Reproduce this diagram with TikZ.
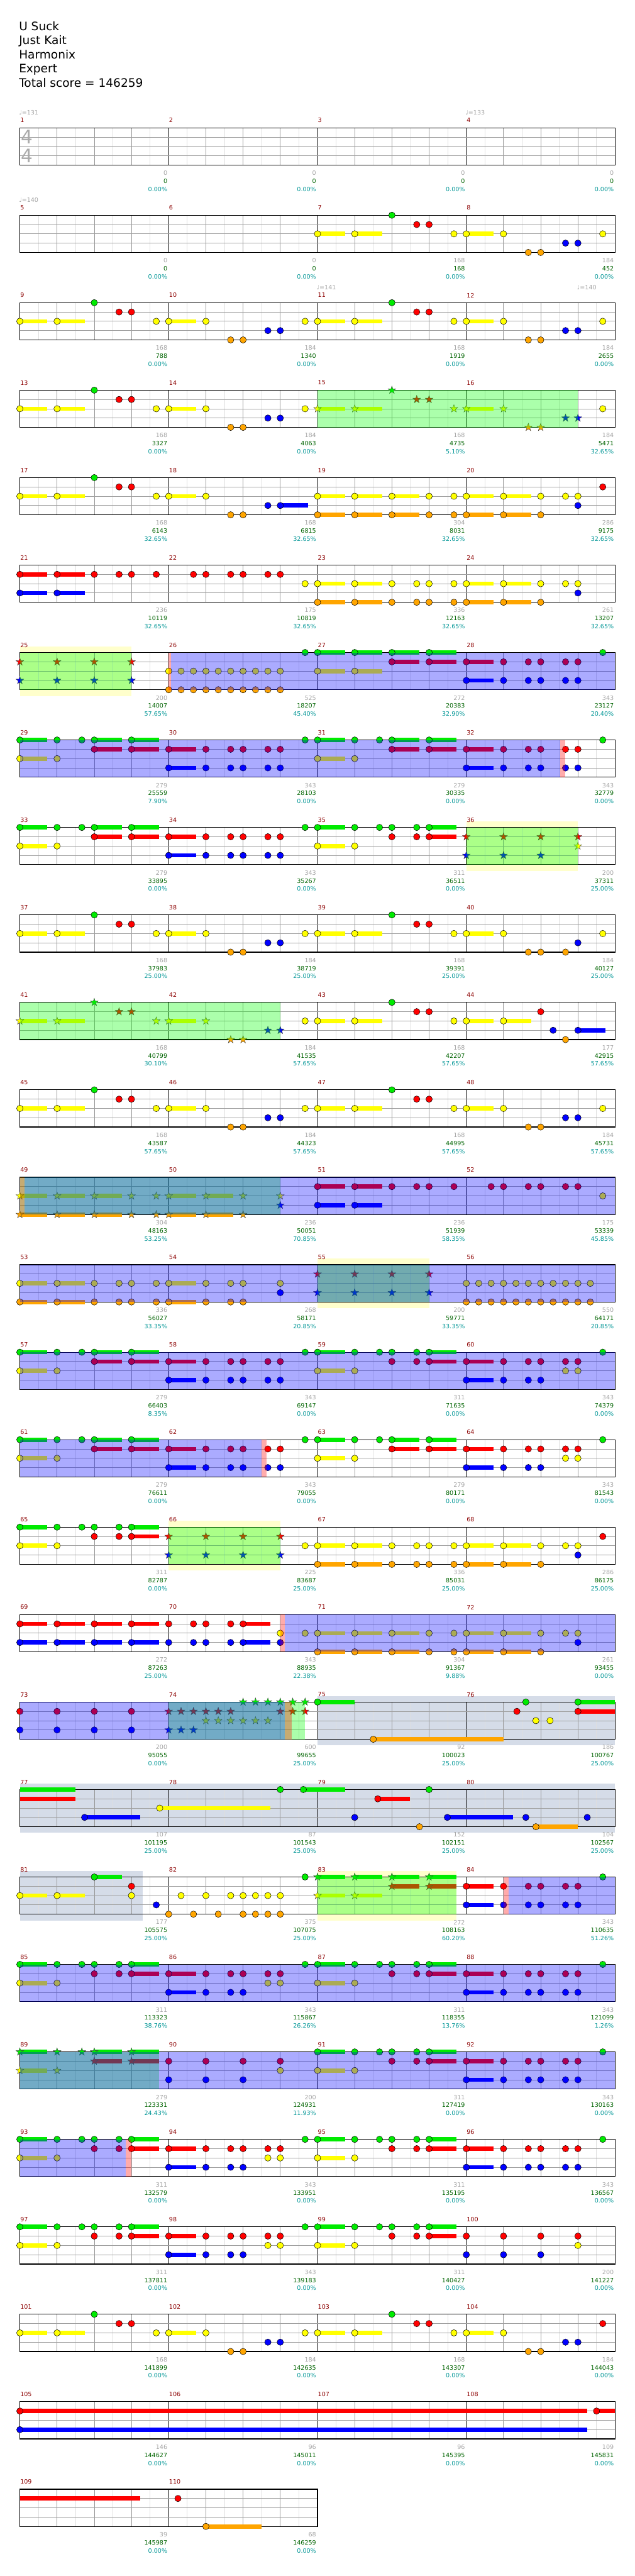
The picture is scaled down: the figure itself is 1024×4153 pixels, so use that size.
\documentclass[tikz,border=0pt]{standalone}
\usepackage{fontspec}
\setmainfont{DejaVu Sans}
\newfontfamily\djv{DejaVu Sans}
\definecolor{n0}{RGB}{0,235,0}
\definecolor{n1}{RGB}{255,0,0}
\definecolor{n2}{RGB}{255,255,0}
\definecolor{n3}{RGB}{0,0,255}
\definecolor{n4}{RGB}{255,165,0}
\definecolor{ovgreen}{RGB}{0,255,0}
\definecolor{mred}{RGB}{140,0,0}
\definecolor{gtxt}{RGB}{165,165,165}
\definecolor{ttxt}{RGB}{0,100,0}
\definecolor{ptxt}{RGB}{0,150,150}
\definecolor{zyel}{RGB}{255,255,204}
\definecolor{zstl}{RGB}{213,220,232}
\definecolor{lanec}{RGB}{160,160,160}
\definecolor{beatc}{RGB}{150,150,150}
\definecolor{eighc}{RGB}{222,222,222}
\definecolor{tsgc}{RGB}{170,170,170}
\tikzset{
  ovB/.style={fill=blue,fill opacity=0.33},
  ovG/.style={fill=ovgreen,fill opacity=0.33},
  ovR/.style={fill=red,fill opacity=0.33},
  mnum/.style={anchor=west,inner sep=0pt,text=mred,font=\fontsize{9.7}{11}\selectfont},
  gsc/.style={anchor=east,inner sep=0pt,text=gtxt,font=\fontsize{9.7}{11}\selectfont},
  tsc/.style={anchor=east,inner sep=0pt,text=ttxt,font=\fontsize{9.7}{11}\selectfont},
  psc/.style={anchor=east,inner sep=0pt,text=ptxt,font=\fontsize{9.7}{11}\selectfont},
  tmp/.style={anchor=west,inner sep=0pt,text=gtxt,font=\fontsize{9.7}{11}\selectfont},
  ttl/.style={anchor=base west,inner sep=0pt,font=\fontsize{18.8}{22}\selectfont},
  tsig/.style={inner sep=0pt,text=tsgc,font=\fontsize{30}{30}\selectfont},
}
% note: shape(0 circle,1 star), row, beat, lane, sustain
\newcommand\nx[5]{%
  \pgfmathsetmacro\nX{32+60*(#3)}%
  \pgfmathsetmacro\nY{206+141*(#2-1)+15*(#4)}%
  \pgfmathsetmacro\nE{\nX+60*(#5)}%
  \ifdim #5 pt>0pt \fill[fill=n#4] (\nX,\nY-3.4) rectangle (\nE,\nY+3.4);\fi
  \ifnum#1=0
    \filldraw[fill=n#4,draw=black,line width=0.5pt] (\nX,\nY) circle (5.2pt);%
  \else
    \filldraw[fill=n#4,draw=black!75,line width=0.4pt] (\nX,\nY) +(90:6.6pt) -- +(126:2.6pt) -- +(162:6.6pt) -- +(198:2.6pt) -- +(234:6.6pt) -- +(270:2.6pt) -- +(306:6.6pt) -- +(342:2.6pt) -- +(18:6.6pt) -- +(54:2.6pt) -- cycle;%
  \fi}
\newcommand\LP[4]{\foreach \vb/\vl in {#4}{\nx{#1}{#2}{#3+\vb}{\vl}{0}}}
\newcommand\LS[4]{\foreach \vb/\vl/\vs in {#4}{\nx{#1}{#2}{#3+\vb}{\vl}{\vs}}}
% patterns: shape,row,offset
\newcommand\Pc[3]{\LS{#1}{#2}{#3}{0/2/.74,1/2/.74,4/2/.74}\LP{#1}{#2}{#3}{2/0,2.667/1,3/1,3.667/2,5/2,5.667/4,6/4}}
\newcommand\Ra[3]{\LS{#1}{#2}{#3}{0/0/.74,0/2/.74,2/0/.74,2/1/.74,3/0/.74,3/1/.74}\LP{#1}{#2}{#3}{1/0,1/2,1.667/0}}
\newcommand\Sa[3]{\LS{#1}{#2}{#3}{0/0/.74,0/2/.74,3/0/.74,3/1/.74}\LP{#1}{#2}{#3}{1/0,1/2,1.667/0,2/0,2/1,2.667/0,2.667/1}}
\newcommand\Rb[3]{\LS{#1}{#2}{#3}{4/1/.74,4/3/.74}\LP{#1}{#2}{#3}{5/1,5/3,5.667/1,5.667/3,6/1,6/3,6.667/1,6.667/3,7/1,7/3,7.667/0}}
\newcommand\Sb[3]{\LS{#1}{#2}{#3}{4/1/.74,4/3/.74}\LP{#1}{#2}{#3}{5/1,5/3,5.667/1,5.667/3,6/1,6/3,6.667/1,6.667/2,7/1,7/2,7.667/0}}
\newcommand\QC[3]{\LS{#1}{#2}{#3}{0/2/.74,0/4/.74,1/2/.74,1/4/.74,2/2/.74,2/4/.74,4/2/.74,4/4/.74,5/2/.74,5/4/.74}\LP{#1}{#2}{#3}{3/2,3/4,3.667/2,3.667/4,6/2,6/4}}
\newcommand\QD[3]{\LS{#1}{#2}{#3}{0/2/.74,0/4/.74,1/2/.74,1/4/.74,4/2/.74,4/4/.74,5/2/.74,5/4/.74}\LP{#1}{#2}{#3}{2/2,2/4,2.667/2,2.667/4,3/2,3/4,3.667/2,3.667/4,6/2,6/4}}
% overlays and zones: row, b1, b2, style/colour
\newcommand\ov[4]{%
  \pgfmathsetmacro\oA{32+60*(#2)}\pgfmathsetmacro\oB{32+60*(#3)}\pgfmathsetmacro\oT{206+141*(#1-1)}%
  \fill[#4] (\oA,\oT) rectangle (\oB,\oT+60);}
\newcommand\zn[4]{%
  \pgfmathsetmacro\oA{32+60*(#2)}\pgfmathsetmacro\oB{32+60*(#3)}\pgfmathsetmacro\oT{206+141*(#1-1)}%
  \fill[fill=#4] (\oA,\oT-10) rectangle (\oB,\oT+70);}
\newcommand\sbar[4]{%
  \pgfmathsetmacro\oA{32+60*(#2)}\pgfmathsetmacro\oB{32+60*(#3)}\pgfmathsetmacro\oY{206+141*(#1-1)+15*(#4)}%
  \fill[fill=n#4] (\oA,\oY-3.4) rectangle (\oB,\oY+3.4);}
% staff: row, number of measures
\newcommand\staff[2]{%
  \pgfmathsetmacro\rowT{206+141*(#1-1)}%
  \pgfmathsetmacro\rowR{32+240*(#2)}%
  \pgfmathtruncatemacro\nEig{8*(#2)-1}%
  \pgfmathtruncatemacro\nBt{4*(#2)-1}%
  \foreach \i in {1,...,\nEig}{\draw[eighc,line width=0.8pt] (32+30*\i,\rowT) -- (32+30*\i,\rowT+60);}%
  \foreach \i in {1,...,\nBt}{\draw[beatc,line width=0.8pt] (32+60*\i,\rowT) -- (32+60*\i,\rowT+60);}%
  \foreach \i in {1,...,#2}{\draw[black,line width=0.8pt] (32+240*\i,\rowT) -- (32+240*\i,\rowT+60);}%
  \foreach \k in {15,30,45}{\draw[lanec,line width=0.9pt] (32,\rowT+\k) -- (\rowR,\rowT+\k);}%
  \draw[black,line width=1.2pt] (32,\rowT) rectangle (\rowR,\rowT+60);}
% texts: row, first measure, list gray/green/pct
\newcommand\rowinfo[3]{%
  \pgfmathsetmacro\rowT{206+141*(#1-1)}%
  \foreach \vg/\vt/\vp [count=\vc from 0] in {#3}{%
    \pgfmathtruncatemacro\mm{#2+\vc}%
    \pgfmathsetmacro\xs{32.5+240*\vc}%
    \pgfmathsetmacro\xe{30+240*(\vc+1)}%
    \node[mnum] (mn\mm) at (\xs,\rowT-12) {\mm};%
    \node[gsc] (gs\mm) at (\xe,\rowT+73) {\vg};%
    \node[tsc] (ts\mm) at (\xe,\rowT+86) {\vt};%
    \node[psc] (ps\mm) at (\xe,\rowT+99) {\vp\%};}}
\begin{document}
\begin{tikzpicture}[x=1pt,y=-1pt]
\useasboundingbox (0,0) rectangle (1024,4153);
\fill[white] (0,0) rectangle (1024,4153);
\node[ttl] (title) at (30.5,49.3) {U Suck};
\node[ttl] (artist) at (30.5,71.8) {Just Kait};
\node[ttl] (author) at (30.5,95) {Harmonix};
\node[ttl] (level) at (30.5,117.5) {Expert};
\node[ttl] (total) at (30.5,140.7) {Total score = 146259};
% row 1
\staff{1}{4}
\node[tsig] (tsa) at (44,220.5) {4};
\node[tsig] (tsb) at (44,251.5) {4};
\node[tmp] (tp1) at (30.5,181.5) {{\djv ♩}=131};
\node[tmp] (tp2) at (750.5,181.5) {{\djv ♩}=133};
% row 2
\staff{2}{4}
\node[tmp] (tp3) at (30.5,322.5) {{\djv ♩}=140};
\Pc{0}{2}{8}\LP{0}{2}{8}{6.667/3,7/3,7.667/2}
% row 3
\staff{3}{4}
\node[tmp] (tp4) at (510.5,463.5) {{\djv ♩}=141};
\node[tmp] (tp5) at (930.5,463.5) {{\djv ♩}=140};
\Pc{0}{3}{0}\LP{0}{3}{0}{6.667/3,7/3,7.667/2}
\Pc{0}{3}{8}\LP{0}{3}{8}{6.667/3,7/3,7.667/2}
% row 4
\staff{4}{4}
\Pc{0}{4}{0}\LP{0}{4}{0}{6.667/3,7/3,7.667/2}
\Pc{1}{4}{8}\LP{1}{4}{8}{6.667/3,7/3}\LP{0}{4}{8}{7.667/2}
\ov{4}{8}{15}{ovG}
% row 5
\staff{5}{4}
\Pc{0}{5}{0}\LP{0}{5}{0}{6.667/3}\LS{0}{5}{0}{7/3/.74}
\QC{0}{5}{8}\LP{0}{5}{8}{6.667/2,7/2,7/3,7.667/1}
% row 6
\staff{6}{4}
\LS{0}{6}{0}{0/1/.74,0/3/.74,1/1/.74,1/3/.74}
\LP{0}{6}{0}{2/1,2.667/1,3/1,3.667/1,4.667/1,5/1,5.667/1,6/1,6.667/1,7/1,7.667/2}
\QD{0}{6}{8}\LP{0}{6}{8}{6.667/2,7/2,7/3}
% row 7
\zn{7}{0}{3}{zyel}
\staff{7}{4}
\LP{1}{7}{0}{0/1,0/3,1/1,1/3,2/1,2/3,3/1,3/3}
\LP{0}{7}{0}{4/2,4/4,4.333/2,4.333/4,4.667/2,4.667/4,5/2,5/4,5.333/2,5.333/4,5.667/2,5.667/4,6/2,6/4,6.333/2,6.333/4,6.667/2,6.667/4,7/2,7/4,7.667/0}
\LS{0}{7}{0}{8/0/.74,8/2/.74,9/0/.74,9/2/.74,10/0/.74,10/1/.74,11/0/.74,11/1/.74}
\Rb{0}{7}{8}
\ov{7}{0}{3}{ovG}\ov{7}{3.99}{4.06}{ovR}\ov{7}{4.06}{16}{ovB}
% row 8
\staff{8}{4}
\Ra{0}{8}{0}\Rb{0}{8}{0}\Ra{0}{8}{8}\Rb{0}{8}{8}
\ov{8}{0}{14.53}{ovB}\ov{8}{14.53}{14.66}{ovR}
% row 9
\zn{9}{12}{15}{zyel}
\staff{9}{4}
\Ra{0}{9}{0}\Rb{0}{9}{0}\Sa{0}{9}{8}
\LP{1}{9}{0}{12/1,12/3,13/1,13/3,14/1,14/3,15/1,15/2}
\ov{9}{12}{15}{ovG}
% row 10
\staff{10}{4}
\Pc{0}{10}{0}\LP{0}{10}{0}{6.667/3,7/3,7.667/2}
\Pc{0}{10}{8}\LP{0}{10}{8}{6.667/4,7/3,7.667/2}
% row 11
\staff{11}{4}
\Pc{1}{11}{0}\LP{1}{11}{0}{6.667/3,7/3}
\LS{0}{11}{0}{8/2/.74,9/2/.74,12/2/.74,13/2/.74,15/3/.74}
\LP{0}{11}{0}{7.667/2,10/0,10.667/1,11/1,11.667/2,14/1,14.333/3,14.667/4}
\ov{11}{0}{7}{ovG}
% row 12
\staff{12}{4}
\Pc{0}{12}{0}\LP{0}{12}{0}{6.667/3,7/3,7.667/2}
\Pc{0}{12}{8}\LP{0}{12}{8}{6.667/3,7/3,7.667/2}
% row 13
\staff{13}{4}
\QC{1}{13}{0}\LP{1}{13}{0}{7/2,7/3}
\LS{0}{13}{0}{8/1/.74,8/3/.74,9/1/.74,9/3/.74}
\LP{0}{13}{0}{10/1,10.667/1,11/1,11.667/1,12.667/1,13/1,13.667/1,14/1,14.667/1,15/1,15.667/2}
\ov{13}{0}{7}{ovG}\ov{13}{0}{0.13}{ovR}\ov{13}{0.13}{16}{ovB}
% row 14
\zn{14}{8}{11}{zyel}
\staff{14}{4}
\LS{0}{14}{0}{0/2/.74,0/4/.74,1/2/.74,1/4/.74,4/2/.74,4/4/.74}
\LP{0}{14}{0}{2/2,2/4,2.667/2,2.667/4,3/2,3/4,3.667/2,3.667/4,5/2,5/4,5.667/2,5.667/4,6/2,6/4,7/2,7/3}
\LP{1}{14}{0}{8/1,8/3,9/1,9/3,10/1,10/3,11/1,11/3}
\LP{0}{14}{12}{0/2,0/4,0.333/2,0.333/4,0.667/2,0.667/4,1/2,1/4,1.333/2,1.333/4,1.667/2,1.667/4,2/2,2/4,2.333/2,2.333/4,2.667/2,2.667/4,3/2,3/4,3.333/2,3.333/4}
\ov{14}{8}{11}{ovG}\ov{14}{0}{16}{ovB}
% row 15
\staff{15}{4}
\Ra{0}{15}{0}\Rb{0}{15}{0}\Sa{0}{15}{8}\Sb{0}{15}{8}
\ov{15}{0}{16}{ovB}
% row 16
\staff{16}{4}
\Ra{0}{16}{0}\Rb{0}{16}{0}\Ra{0}{16}{8}\Sb{0}{16}{8}
\ov{16}{0}{6.5}{ovB}\ov{16}{6.5}{6.63}{ovR}
% row 17
\zn{17}{4}{7}{zyel}
\staff{17}{4}
\Sa{0}{17}{0}
\LP{1}{17}{0}{4/1,4/3,5/1,5/3,6/1,6/3,7/1,7/3}
\LP{0}{17}{0}{7.667/2}
\QD{0}{17}{8}\LP{0}{17}{8}{6.667/2,7/2,7/3,7.667/1}
\ov{17}{4}{7}{ovG}
% row 18
\staff{18}{4}
\LS{0}{18}{0}{0/1/.74,0/3/.74,1/1/.74,1/3/.74,2/1/.74,2/3/.74,3/1/.74,3/3/.74,6/1/.74,6/3/.74}
\LP{0}{18}{0}{4/1,4/3,4.667/1,4.667/3,5/1,5/3,5.667/1,5.667/3,7/2,7/3,7.667/2}
\QC{0}{18}{8}\LP{0}{18}{8}{6.667/2,7/2,7/3}
\ov{18}{7}{7.13}{ovR}\ov{18}{7.13}{16}{ovB}
% row 19
\zn{19}{8}{16}{zstl}
\staff{19}{4}
\LP{0}{19}{0}{0/1,0/3,1/1,1/3,2/1,2/3,3/1,3/3}
\LP{1}{19}{0}{4/1,4/3,4.333/1,4.333/3,4.667/1,4.667/3,5/1,5/2,5.333/1,5.333/2,5.667/1,5.667/2,6/0,6/2,6.333/0,6.333/2,6.667/0,6.667/2,7/0,7/1,7.333/0,7.333/1,7.667/0,7.667/1}
\LS{0}{19}{0}{8/0/1,9.5/4/3.5,15/0/1,15/1/1}
\LP{0}{19}{0}{13.36/1,13.6/0,13.87/2,14.25/2}
\ov{19}{4}{7.67}{ovG}\ov{19}{0}{7.13}{ovB}\ov{19}{7.13}{7.3}{ovR}
% row 20
\zn{20}{0}{16}{zstl}
\staff{20}{4}
\sbar{20}{0}{1.5}{0}\sbar{20}{0}{1.5}{1}
\LS{0}{20}{0}{1.74/3/1.5,3.76/2/2.98,7.62/0/1.12,9.62/1/0.87,11.49/3/1.76,13.87/4/1.13}
\LP{0}{20}{0}{7/0,9/3,10.74/4,11/0,13.6/3,15.25/3}
% row 21
\zn{21}{0}{3.31}{zstl}\zn{21}{8}{11.74}{zyel}
\staff{21}{4}
\LS{0}{21}{0}{0/2/.74,1/2/.74,2/0/.74}
\LP{0}{21}{0}{3/1,3/2,3.667/3,4/4,4.333/2,4.667/4,5/2,5.333/4,5.667/2,6/2,6/4,6.333/2,6.333/4,6.667/2,6.667/4,7/2,7/4,7.667/0}
\LS{1}{21}{0}{8/0/.74,8/2/.74,9/0/.74,9/2/.74,10/0/.74,10/1/.74,11/0/.74,11/1/.74}
\Rb{0}{21}{8}
\ov{21}{8}{11.74}{ovG}\ov{21}{13}{13.13}{ovR}\ov{21}{13.13}{16}{ovB}
% row 22
\staff{22}{4}
\Sa{0}{22}{0}\Sb{0}{22}{0}\Sa{0}{22}{8}\Rb{0}{22}{8}
\ov{22}{0}{16}{ovB}
% row 23
\staff{23}{4}
\Ra{1}{23}{0}
\LP{0}{23}{0}{4/1,4/3,5/1,5/3,6/1,6/3,7/1,7/2}
\Sa{0}{23}{8}\Rb{0}{23}{8}
\ov{23}{0}{3.74}{ovG}\ov{23}{0}{16}{ovB}
% row 24
\staff{24}{4}
\Sa{0}{24}{0}\Sb{0}{24}{0}\Sa{0}{24}{8}\Rb{0}{24}{8}
\ov{24}{0}{2.85}{ovB}\ov{24}{2.85}{3}{ovR}
% row 25
\staff{25}{4}
\Sa{0}{25}{0}\Sb{0}{25}{0}\Sa{0}{25}{8}
\LP{0}{25}{0}{12/1,12/3,13/1,13/3,14/1,14/3,15/1,15/2}
% row 26
\staff{26}{4}
\Pc{0}{26}{0}\LP{0}{26}{0}{6.667/3,7/3,7.667/2}
\Pc{0}{26}{8}\LP{0}{26}{8}{6.667/3,7/3,7.667/1}
% row 27
\staff{27}{4}
\LS{0}{27}{0}{0/1/15.25,0/3/15.25,15.5/1/0.5}
% row 28
\staff{28}{2}
\sbar{28}{0}{3.24}{1}
\LP{0}{28}{0}{4.25/1}
\LS{0}{28}{0}{5/4/1.5}
% texts
\rowinfo{1}{1}{0/0/0.00,0/0/0.00,0/0/0.00,0/0/0.00}
\rowinfo{2}{5}{0/0/0.00,0/0/0.00,168/168/0.00,184/452/0.00}
\rowinfo{3}{9}{168/788/0.00,184/1340/0.00,168/1919/0.00,184/2655/0.00}
\rowinfo{4}{13}{168/3327/0.00,184/4063/0.00,168/4735/5.10,184/5471/32.65}
\rowinfo{5}{17}{168/6143/32.65,168/6815/32.65,304/8031/32.65,286/9175/32.65}
\rowinfo{6}{21}{236/10119/32.65,175/10819/32.65,336/12163/32.65,261/13207/32.65}
\rowinfo{7}{25}{200/14007/57.65,525/18207/45.40,272/20383/32.90,343/23127/20.40}
\rowinfo{8}{29}{279/25559/7.90,343/28103/0.00,279/30335/0.00,343/32779/0.00}
\rowinfo{9}{33}{279/33895/0.00,343/35267/0.00,311/36511/0.00,200/37311/25.00}
\rowinfo{10}{37}{168/37983/25.00,184/38719/25.00,168/39391/25.00,184/40127/25.00}
\rowinfo{11}{41}{168/40799/30.10,184/41535/57.65,168/42207/57.65,177/42915/57.65}
\rowinfo{12}{45}{168/43587/57.65,184/44323/57.65,168/44995/57.65,184/45731/57.65}
\rowinfo{13}{49}{304/48163/53.25,236/50051/70.85,236/51939/58.35,175/53339/45.85}
\rowinfo{14}{53}{336/56027/33.35,268/58171/20.85,200/59771/33.35,550/64171/20.85}
\rowinfo{15}{57}{279/66403/8.35,343/69147/0.00,311/71635/0.00,343/74379/0.00}
\rowinfo{16}{61}{279/76611/0.00,343/79055/0.00,279/80171/0.00,343/81543/0.00}
\rowinfo{17}{65}{311/82787/0.00,225/83687/25.00,336/85031/25.00,286/86175/25.00}
\rowinfo{18}{69}{272/87263/25.00,343/88935/22.38,304/91367/9.88,261/93455/0.00}
\rowinfo{19}{73}{200/95055/0.00,600/99655/25.00,92/100023/25.00,186/100767/25.00}
\rowinfo{20}{77}{107/101195/25.00,87/101543/25.00,152/102151/25.00,104/102567/25.00}
\rowinfo{21}{81}{177/105575/25.00,375/107075/25.00,272/108163/60.20,343/110635/51.26}
\rowinfo{22}{85}{311/113323/38.76,343/115867/26.26,311/118355/13.76,343/121099/1.26}
\rowinfo{23}{89}{279/123331/24.43,200/124931/11.93,311/127419/0.00,343/130163/0.00}
\rowinfo{24}{93}{311/132579/0.00,343/133951/0.00,311/135195/0.00,343/136567/0.00}
\rowinfo{25}{97}{311/137811/0.00,343/139183/0.00,311/140427/0.00,200/141227/0.00}
\rowinfo{26}{101}{168/141899/0.00,184/142635/0.00,168/143307/0.00,184/144043/0.00}
\rowinfo{27}{105}{146/144627/0.00,96/145011/0.00,96/145395/0.00,109/145831/0.00}
\rowinfo{28}{109}{39/145987/0.00,68/146259/0.00}
\end{tikzpicture}
\end{document}
